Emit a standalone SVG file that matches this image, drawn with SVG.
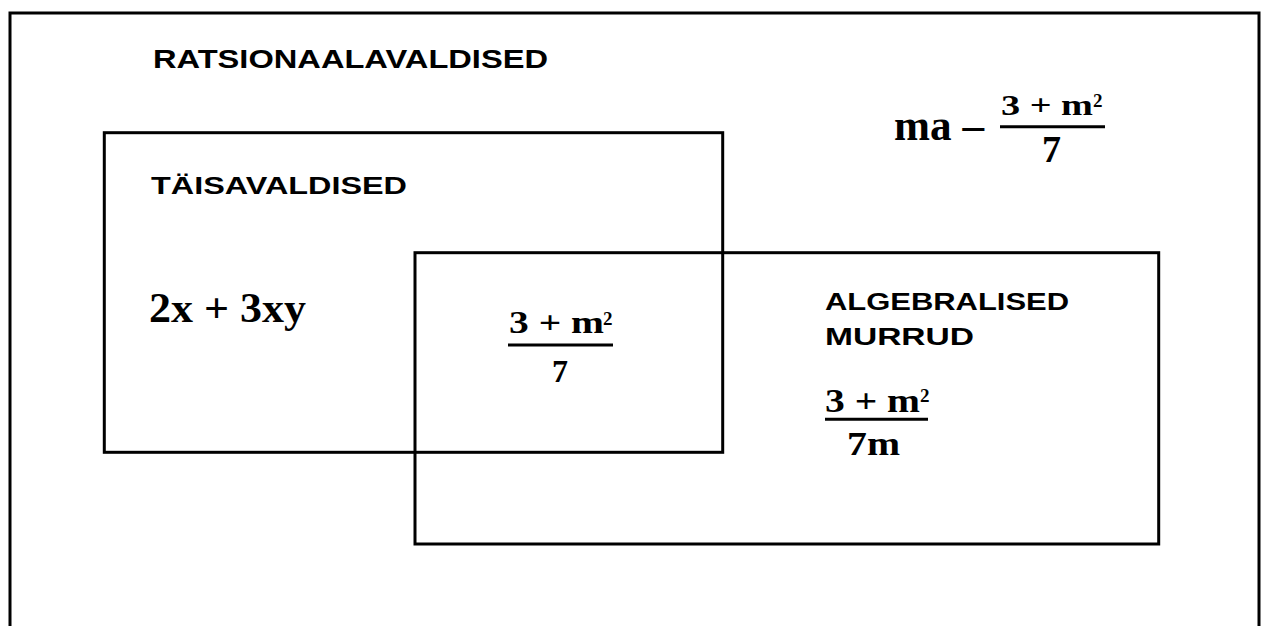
<svg xmlns="http://www.w3.org/2000/svg" width="1262" height="626" viewBox="0 0 1262 626">
<style>
.box{fill:none;stroke:#000;stroke-width:3}
.lbl{font-family:"Liberation Sans",Arial,sans-serif;font-weight:bold;fill:#000}
.m{font-family:"Liberation Serif","Times New Roman",serif;font-weight:bold;fill:#000}
.bar{stroke:#000;stroke-width:3}
</style>
<rect width="1262" height="626" fill="#fff"/>
<g id="ratsionaalavaldised">
<rect class="box" x="10" y="13" width="1249" height="700"/>
<text class="lbl" x="153" y="68" font-size="26" textLength="395" lengthAdjust="spacingAndGlyphs">RATSIONAALAVALDISED</text>
<g id="expr-ma">
<text class="m" x="894" y="140" font-size="44" textLength="90" lengthAdjust="spacingAndGlyphs">ma –</text>
<text class="m" x="1001" y="115" font-size="30" textLength="92" lengthAdjust="spacingAndGlyphs">3 + m</text>
<text class="m" x="1093" y="106.5" font-size="19">2</text>
<line class="bar" x1="1000" y1="126.7" x2="1105" y2="126.7"/>
<text class="m" x="1042" y="161.5" font-size="38">7</text>
</g>
</g>
<g id="taisavaldised">
<rect class="box" x="104.3" y="132.7" width="618.4" height="319.6"/>
<text class="lbl" x="151" y="194" font-size="24" textLength="256" lengthAdjust="spacingAndGlyphs">TÄISAVALDISED</text>
<text class="m" x="149" y="321.5" font-size="42" textLength="157" lengthAdjust="spacingAndGlyphs">2x + 3xy</text>
</g>
<g id="algebralised-murrud">
<rect class="box" x="415" y="252.7" width="743.7" height="291.3"/>
<text class="lbl" x="825" y="310" font-size="24" textLength="244" lengthAdjust="spacingAndGlyphs">ALGEBRALISED</text>
<text class="lbl" x="825" y="345" font-size="24" textLength="149" lengthAdjust="spacingAndGlyphs">MURRUD</text>
<g id="expr-7m">
<text class="m" x="825" y="411.7" font-size="34" textLength="95" lengthAdjust="spacingAndGlyphs">3 + m</text>
<text class="m" x="920" y="401.7" font-size="19">2</text>
<line class="bar" x1="825" y1="419.3" x2="928" y2="419.3"/>
<text class="m" x="847" y="455" font-size="34" textLength="53" lengthAdjust="spacingAndGlyphs">7m</text>
</g>
</g>
<g id="intersection">
<text class="m" x="509" y="333" font-size="32" textLength="95" lengthAdjust="spacingAndGlyphs">3 + m</text>
<text class="m" x="603" y="325" font-size="19">2</text>
<line class="bar" x1="508" y1="345" x2="613" y2="345"/>
<text class="m" x="552" y="382" font-size="32">7</text>
</g>
</svg>
